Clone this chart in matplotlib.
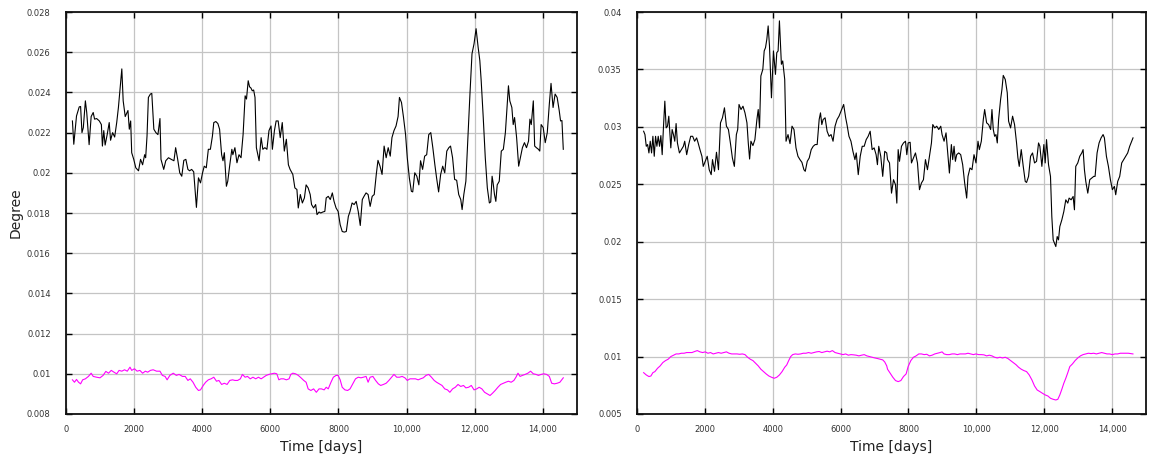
import matplotlib
matplotlib.use("Agg")
import matplotlib.pyplot as plt
from matplotlib.ticker import FuncFormatter, MultipleLocator


# left panel, black series
left_days = [190, 230, 310, 390, 430, 470, 510, 570, 610, 680, 740, 800, 840, 900, 980,
             1040, 1070, 1110, 1150, 1210, 1270, 1310, 1370, 1430, 1490, 1540, 1600, 1640,
             1680, 1740, 1820, 1860, 1900, 1930, 1990, 2050, 2130, 2190, 2250, 2310, 2340,
             2380, 2420, 2480, 2520, 2580, 2640, 2700, 2760, 2790, 2870, 2930, 3010, 3090,
             3170, 3220, 3280, 3340, 3400, 3460, 3520, 3580, 3630, 3690, 3750, 3830, 3890,
             3950, 4010, 4060, 4120, 4180, 4240, 4300, 4340, 4400, 4460, 4510, 4570, 4610,
             4650, 4710, 4750, 4810, 4870, 4900, 4960, 5020, 5080, 5140, 5200, 5260, 5300,
             5350, 5390, 5430, 5470, 5510, 5550, 5590, 5670, 5730, 5780, 5840, 5900, 5960,
             6020, 6060, 6120, 6170, 6230, 6290, 6350, 6410, 6470, 6530, 6580, 6660, 6720,
             6780, 6820, 6880, 6940, 7000, 7050, 7110, 7170, 7210, 7270, 7330, 7370, 7430,
             7480, 7540, 7600, 7640, 7700, 7760, 7820, 7870, 7930, 7990, 8050, 8110, 8170,
             8230, 8290, 8340, 8400, 8460, 8520, 8580, 8640, 8700, 8750, 8810, 8870, 8930,
             8990, 9050, 9110, 9160, 9220, 9280, 9340, 9400, 9460, 9520, 9570, 9630, 9690,
             9750, 9790, 9850, 9910, 9970, 10020, 10080, 10140, 10180, 10240, 10300, 10360,
             10410, 10470, 10530, 10590, 10650, 10710, 10770, 10830, 10880, 10940, 11000,
             11060, 11120, 11180, 11240, 11290, 11350, 11410, 11470, 11530, 11590, 11630,
             11680, 11740, 11800, 11860, 11920, 11980, 12040, 12100, 12150, 12190, 12250,
             12310, 12370, 12430, 12470, 12510, 12540, 12580, 12620, 12660, 12720, 12780,
             12840, 12900, 12960, 12990, 13030, 13090, 13130, 13170, 13230, 13290, 13350,
             13400, 13460, 13520, 13580, 13620, 13660, 13720, 13760, 13810, 13870, 13910,
             13950, 14010, 14070, 14130, 14190, 14240, 14300, 14360, 14420, 14480, 14520,
             14560, 14600]
left_black = [0.02258, 0.02142, 0.02283, 0.02328, 0.0233, 0.0220, 0.02225, 0.02358, 0.0230,
              0.0214, 0.0228, 0.0230, 0.02267, 0.0227, 0.02258, 0.0224, 0.02133, 0.0221,
              0.02138, 0.0219, 0.0225, 0.02162, 0.0220, 0.02178, 0.0225, 0.02325, 0.0244,
              0.02517, 0.02358, 0.0228, 0.0231, 0.02217, 0.02258, 0.0210, 0.02067, 0.02025,
              0.0201, 0.02067, 0.0204, 0.0209, 0.02075, 0.02183, 0.02375, 0.02392, 0.02395,
              0.02217, 0.0220, 0.0219, 0.0227, 0.02067, 0.02017, 0.0206, 0.02075, 0.02067,
              0.0206, 0.02125, 0.02067, 0.0200, 0.01983, 0.02062, 0.02067, 0.02017, 0.0201,
              0.02017, 0.02005, 0.01828, 0.01975, 0.0195, 0.0200, 0.02033, 0.02025, 0.02117,
              0.02117, 0.02183, 0.0225, 0.02255, 0.02245, 0.02217, 0.0209, 0.0206, 0.0210,
              0.01933, 0.01958, 0.0204, 0.02117, 0.0209, 0.02125, 0.0205, 0.0209, 0.02075,
              0.0219, 0.02383, 0.02367, 0.02458, 0.02428, 0.02422, 0.02408, 0.02412, 0.02375,
              0.02125, 0.0206, 0.02175, 0.02117, 0.02125, 0.02117, 0.0221, 0.02233, 0.02117,
              0.0221, 0.02258, 0.02258, 0.02175, 0.0225, 0.02108, 0.02167, 0.0204, 0.02017,
              0.01992, 0.01925, 0.01917, 0.01825, 0.01892, 0.0185, 0.01875, 0.0194, 0.01925,
              0.01892, 0.01842, 0.01825, 0.01842, 0.01792, 0.01805, 0.0180, 0.01805, 0.01808,
              0.01875, 0.01883, 0.01867, 0.0190, 0.01858, 0.01825, 0.01808, 0.01742, 0.01708,
              0.01705, 0.01708, 0.01783, 0.01808, 0.0185, 0.01842, 0.01858, 0.01808, 0.01738,
              0.01867, 0.01883, 0.0190, 0.01892, 0.01833, 0.01883, 0.01892, 0.01992, 0.02062,
              0.02033, 0.01992, 0.02133, 0.02075, 0.02125, 0.02083, 0.02175, 0.0221, 0.02233,
              0.0228, 0.02375, 0.0235, 0.02275, 0.0219, 0.02075, 0.01975, 0.01908, 0.01905,
              0.0200, 0.01983, 0.0194, 0.0206, 0.02017, 0.02083, 0.0209, 0.0219, 0.0220,
              0.02125, 0.0204, 0.01975, 0.01905, 0.01992, 0.02033, 0.0200, 0.02108, 0.02125,
              0.02133, 0.02075, 0.01967, 0.01963, 0.01892, 0.01867, 0.01817, 0.01892, 0.01958,
              0.02175, 0.02392, 0.02592, 0.02642, 0.02717, 0.02625, 0.02558, 0.02458, 0.02275,
              0.02075, 0.01925, 0.0185, 0.01855, 0.01983, 0.0195, 0.01892, 0.01858, 0.0194,
              0.01958, 0.02108, 0.02117, 0.0220, 0.02358, 0.02433, 0.02358, 0.02325, 0.0224,
              0.02275, 0.02175, 0.02033, 0.02083, 0.02125, 0.0215, 0.02125, 0.02158, 0.02267,
              0.0224, 0.02358, 0.02133, 0.02125, 0.02117, 0.02108, 0.0224, 0.02225, 0.0215,
              0.0220, 0.02342, 0.02445, 0.02325, 0.02392, 0.02375, 0.0231, 0.02258, 0.0226,
              0.02117]

# left panel, magenta series
left_mag_days = [190, 250, 310, 370, 430, 490, 570, 660, 740, 800, 900, 1000, 1090, 1170,
                 1250, 1330, 1410, 1490, 1560, 1640, 1720, 1800, 1880, 1930, 2010, 2090,
                 2170, 2250, 2330, 2400, 2480, 2560, 2660, 2760, 2830, 2910, 2970, 3050,
                 3150, 3240, 3320, 3420, 3500, 3580, 3650, 3730, 3810, 3890, 3950, 4030,
                 4100, 4180, 4260, 4340, 4420, 4490, 4570, 4650, 4730, 4810, 4890, 4960,
                 5040, 5120, 5180, 5260, 5330, 5410, 5490, 5570, 5650, 5730, 5800, 5880,
                 5960, 6040, 6120, 6190, 6250, 6310, 6390, 6470, 6550, 6600, 6660, 6740,
                 6820, 6900, 6980, 7050, 7110, 7190, 7270, 7350, 7430, 7500, 7580, 7640,
                 7700, 7780, 7850, 7930, 7990, 8050, 8110, 8190, 8270, 8340, 8420, 8500,
                 8580, 8660, 8730, 8810, 8870, 8930, 9010, 9090, 9170, 9240, 9320, 9400,
                 9480, 9560, 9630, 9710, 9790, 9870, 9950, 10020, 10100, 10180, 10260,
                 10340, 10410, 10490, 10570, 10650, 10730, 10810, 10880, 10960, 11040,
                 11120, 11200, 11270, 11350, 11430, 11510, 11590, 11670, 11740, 11820,
                 11900, 11980, 12060, 12130, 12210, 12290, 12370, 12450, 12520, 12600,
                 12680, 12760, 12840, 12910, 12990, 13070, 13150, 13210, 13270, 13330,
                 13400, 13480, 13560, 13640, 13720, 13800, 13870, 13950, 14030, 14110,
                 14190, 14260, 14340, 14420, 14500, 14600]
left_magenta = [0.0097, 0.00958, 0.00972, 0.00958, 0.0095, 0.0097, 0.00975, 0.00987, 0.01003,
                0.00987, 0.00983, 0.0098, 0.00992, 0.01012, 0.01003, 0.01017, 0.01008, 0.0100,
                0.01017, 0.01013, 0.0102, 0.01013, 0.01033, 0.01017, 0.01025, 0.01013, 0.01017,
                0.01003, 0.01013, 0.01008, 0.01017, 0.0102, 0.01013, 0.01013, 0.00992, 0.00987,
                0.0097, 0.00992, 0.01003, 0.00992, 0.00997, 0.00987, 0.00987, 0.00967, 0.00975,
                0.00958, 0.00933, 0.00917, 0.0092, 0.00942, 0.00958, 0.0097, 0.00975, 0.00983,
                0.00963, 0.00967, 0.00947, 0.00953, 0.00947, 0.00967, 0.0097, 0.00967, 0.00967,
                0.00975, 0.00997, 0.00983, 0.00987, 0.00975, 0.00983, 0.00975, 0.00983, 0.00975,
                0.00983, 0.00992, 0.00997, 0.0100, 0.01003, 0.0100, 0.0097, 0.00975, 0.00975,
                0.0097, 0.00975, 0.00997, 0.01003, 0.0100, 0.00992, 0.0098, 0.00967, 0.00958,
                0.00925, 0.00917, 0.00925, 0.00908, 0.00925, 0.00925, 0.0092, 0.00933, 0.00925,
                0.00958, 0.00983, 0.00992, 0.00992, 0.0097, 0.00933, 0.0092, 0.00917, 0.00925,
                0.0095, 0.00975, 0.00983, 0.0098, 0.00983, 0.00987, 0.00958, 0.00983, 0.00987,
                0.00967, 0.0095, 0.00942, 0.00947, 0.00953, 0.00967, 0.00983, 0.00997, 0.00983,
                0.00983, 0.00987, 0.0098, 0.00967, 0.00975, 0.00975, 0.00975, 0.0097, 0.00975,
                0.0098, 0.00992, 0.00997, 0.00983, 0.00967, 0.00958, 0.0095, 0.00942, 0.00925,
                0.0092, 0.00908, 0.00925, 0.00933, 0.00947, 0.00937, 0.00942, 0.0093, 0.00933,
                0.00942, 0.0092, 0.00925, 0.00933, 0.00925, 0.00908, 0.0090, 0.00892, 0.00903,
                0.00917, 0.00933, 0.00947, 0.00953, 0.00958, 0.00963, 0.00958, 0.00967, 0.00983,
                0.01003, 0.00987, 0.00992, 0.00997, 0.01003, 0.01013, 0.0100, 0.00997, 0.00992,
                0.00997, 0.0100, 0.00997, 0.00987, 0.00953, 0.0095, 0.00953, 0.00958, 0.0098]

# right panel, black series
right_days = [195, 234, 273, 312, 351, 390, 429, 468, 508, 547, 586, 625, 664, 703, 742, 781,
              820, 859, 898, 937, 996, 1035, 1074, 1113, 1152, 1191, 1250, 1308, 1367, 1406,
              1464, 1523, 1582, 1640, 1698, 1757, 1796, 1855, 1913, 1952, 2011, 2069, 2128,
              2186, 2225, 2284, 2342, 2401, 2460, 2518, 2577, 2635, 2694, 2752, 2811, 2869,
              2928, 2967, 3006, 3065, 3123, 3182, 3240, 3279, 3318, 3357, 3416, 3474, 3533,
              3572, 3611, 3650, 3708, 3748, 3787, 3826, 3865, 3904, 3962, 4021, 4080, 4119,
              4158, 4197, 4255, 4294, 4353, 4392, 4450, 4509, 4568, 4626, 4685, 4743, 4802,
              4860, 4919, 4958, 5017, 5075, 5134, 5192, 5251, 5309, 5368, 5407, 5446, 5485,
              5543, 5602, 5660, 5719, 5777, 5836, 5895, 5953, 6012, 6090, 6149, 6188, 6246,
              6305, 6363, 6422, 6461, 6520, 6578, 6637, 6695, 6754, 6812, 6871, 6929, 6988,
              7046, 7085, 7124, 7183, 7241, 7300, 7359, 7383, 7441, 7500, 7559, 7618, 7657,
              7696, 7735, 7794, 7853, 7912, 7951, 7990, 8049, 8088, 8147, 8206, 8265, 8324,
              8382, 8441, 8500, 8559, 8618, 8677, 8716, 8775, 8833, 8892, 8951, 8990, 9049,
              9107, 9166, 9206, 9264, 9303, 9343, 9382, 9421, 9480, 9539, 9597, 9656, 9715,
              9754, 9813, 9872, 9931, 9990, 10049, 10088, 10147, 10205, 10245, 10303, 10362,
              10421, 10460, 10499, 10539, 10578, 10617, 10656, 10715, 10754, 10793, 10852,
              10911, 10950, 11009, 11068, 11126, 11185, 11225, 11264, 11323, 11382, 11441,
              11480, 11539, 11598, 11656, 11715, 11774, 11833, 11872, 11931, 11990, 12029,
              12068, 12127, 12185, 12224, 12264, 12303, 12342, 12382, 12421, 12460, 12519,
              12578, 12636, 12695, 12734, 12793, 12852, 12891, 12930, 12989, 13048, 13107,
              13146, 13185, 13225, 13284, 13342, 13401, 13460, 13499, 13558, 13617, 13676,
              13735, 13774, 13833, 13892, 13951, 14009, 14068, 14107, 14166, 14225, 14284,
              14343, 14401, 14460, 14519, 14578, 14617]
right_black = [0.02962, 0.02933, 0.02831, 0.02846, 0.02773, 0.02875, 0.02773, 0.02918, 0.02744,
               0.02918, 0.02831, 0.02918, 0.02831, 0.02924, 0.02758, 0.03006, 0.03224, 0.02991,
               0.03006, 0.03093, 0.02817, 0.02977, 0.02933, 0.02875, 0.03029, 0.0286, 0.02773,
               0.02802, 0.02831, 0.02875, 0.02758, 0.02846, 0.02918, 0.02918, 0.02875, 0.02904,
               0.02866, 0.02802, 0.02744, 0.02656, 0.027, 0.02744, 0.02627, 0.02584, 0.02715,
               0.02613, 0.02779, 0.02627, 0.03035, 0.03079, 0.03166, 0.03006, 0.02977, 0.0286,
               0.02729, 0.02656, 0.02933, 0.02977, 0.03195, 0.03151, 0.0318, 0.03122, 0.03035,
               0.0286, 0.0272, 0.02875, 0.02837, 0.02889, 0.03064, 0.03151, 0.02991, 0.03443,
               0.03501, 0.03661, 0.0369, 0.03763, 0.03879, 0.03705, 0.03253, 0.03661, 0.03457,
               0.03646, 0.03661, 0.03923, 0.03545, 0.03574, 0.03413, 0.02875, 0.02933, 0.02854,
               0.03006, 0.02977, 0.02817, 0.02744, 0.02715, 0.02691, 0.02627, 0.02613, 0.027,
               0.02729, 0.02802, 0.02831, 0.02846, 0.02846, 0.03064, 0.03122, 0.0302, 0.03064,
               0.03079, 0.02962, 0.02918, 0.02933, 0.02875, 0.03006, 0.03064, 0.03093, 0.03137,
               0.03195, 0.03079, 0.0302, 0.02918, 0.02875, 0.02787, 0.02715, 0.02773, 0.02584,
               0.02744, 0.02831, 0.02831, 0.02889, 0.02918, 0.02962, 0.02802, 0.02817, 0.02758,
               0.02671, 0.02831, 0.02744, 0.02569, 0.02787, 0.02773, 0.02715, 0.02686, 0.02423,
               0.0254, 0.02496, 0.02336, 0.02802, 0.027, 0.02831, 0.0286, 0.02875, 0.02758,
               0.0286, 0.02866, 0.02686, 0.02729, 0.02773, 0.02686, 0.02453, 0.02511, 0.0254,
               0.02715, 0.02627, 0.02744, 0.0286, 0.0302, 0.02991, 0.03006, 0.02977, 0.03006,
               0.02933, 0.02875, 0.02948, 0.02744, 0.02598, 0.02846, 0.02715, 0.02831, 0.027,
               0.02758, 0.02773, 0.02758, 0.02671, 0.02511, 0.0238, 0.02569, 0.02642, 0.02627,
               0.02758, 0.02686, 0.02875, 0.02802, 0.02875, 0.03064, 0.03151, 0.03035, 0.0302,
               0.02977, 0.03151, 0.02977, 0.02918, 0.02933, 0.0286, 0.03064, 0.03239, 0.03326,
               0.03448, 0.03413, 0.03297, 0.0305, 0.02991, 0.03093, 0.0302, 0.0286, 0.02729,
               0.02656, 0.02802, 0.02656, 0.02525, 0.02516, 0.02569, 0.02744, 0.02773, 0.02686,
               0.027, 0.0286, 0.02831, 0.02656, 0.02846, 0.02686, 0.02889, 0.02671, 0.02569,
               0.0222, 0.02016, 0.01987, 0.01958, 0.02045, 0.02016, 0.02132, 0.0219, 0.02263,
               0.02365, 0.02336, 0.0238, 0.02365, 0.02394, 0.02278, 0.02656, 0.02686, 0.02744,
               0.02773, 0.02802, 0.02627, 0.02525, 0.02423, 0.0254, 0.02555, 0.02569, 0.02569,
               0.02773, 0.0286, 0.02904, 0.02933, 0.02904, 0.02744, 0.02656, 0.0254, 0.02453,
               0.02482, 0.02409, 0.02525, 0.02569, 0.02686, 0.02715, 0.02744, 0.02773, 0.02831,
               0.02875, 0.02904]

# right panel, magenta series
right_mag_days = [195, 273, 351, 410, 468, 527, 605, 683, 761, 840, 918, 996, 1074, 1152,
                  1230, 1308, 1386, 1464, 1542, 1620, 1698, 1777, 1855, 1933, 2011, 2089,
                  2167, 2245, 2323, 2401, 2479, 2557, 2635, 2713, 2791, 2869, 2948, 3026,
                  3104, 3182, 3260, 3338, 3416, 3494, 3572, 3650, 3728, 3806, 3885, 3963,
                  4041, 4119, 4197, 4275, 4353, 4412, 4470, 4529, 4587, 4665, 4743, 4821,
                  4900, 4978, 5056, 5134, 5212, 5290, 5368, 5446, 5524, 5602, 5680, 5758,
                  5836, 5915, 5993, 6071, 6149, 6227, 6305, 6383, 6461, 6539, 6617, 6695,
                  6774, 6852, 6930, 7008, 7086, 7164, 7242, 7300, 7359, 7383, 7461, 7539,
                  7618, 7696, 7775, 7853, 7931, 7990, 8069, 8147, 8225, 8304, 8382, 8461,
                  8539, 8618, 8696, 8775, 8853, 8931, 8990, 9049, 9127, 9205, 9284, 9362,
                  9441, 9519, 9597, 9676, 9754, 9833, 9911, 9989, 10068, 10146, 10225,
                  10303, 10382, 10460, 10539, 10617, 10695, 10773, 10852, 10930, 11009,
                  11087, 11166, 11245, 11323, 11401, 11480, 11558, 11637, 11715, 11793,
                  11872, 11950, 12029, 12107, 12185, 12264, 12342, 12401, 12460, 12519,
                  12577, 12636, 12695, 12754, 12832, 12910, 12989, 13067, 13145, 13223,
                  13302, 13380, 13459, 13537, 13615, 13694, 13772, 13851, 13929, 14007,
                  14086, 14164, 14243, 14321, 14399, 14478, 14556, 14615]
right_magenta = [0.0086, 0.0084, 0.00826, 0.00831, 0.0086, 0.00869, 0.00898, 0.00919, 0.00948,
                 0.00965, 0.00977, 0.0100, 0.01012, 0.01023, 0.01023, 0.01029, 0.01029, 0.01035,
                 0.01035, 0.01035, 0.01044, 0.01052, 0.01041, 0.01035, 0.01041, 0.01029, 0.01035,
                 0.01023, 0.01029, 0.01035, 0.01029, 0.01035, 0.01041, 0.01029, 0.01023, 0.01023,
                 0.01023, 0.0102, 0.01023, 0.01017, 0.00994, 0.00977, 0.00965, 0.00942, 0.00919,
                 0.0089, 0.00869, 0.00849, 0.00831, 0.0082, 0.00811, 0.0082, 0.0084, 0.00869,
                 0.00907, 0.00927, 0.00965, 0.0100, 0.01017, 0.01023, 0.0102, 0.01023, 0.01029,
                 0.01029, 0.01035, 0.01029, 0.01035, 0.01041, 0.01044, 0.01035, 0.01041, 0.01047,
                 0.01041, 0.01052, 0.01035, 0.01029, 0.01023, 0.01017, 0.01023, 0.01012, 0.01017,
                 0.01015, 0.01012, 0.01006, 0.01012, 0.01017, 0.01006, 0.0100, 0.00994, 0.00988,
                 0.00983, 0.00977, 0.00971, 0.00953, 0.00919, 0.0089, 0.00855, 0.0082, 0.00791,
                 0.00782, 0.00791, 0.00826, 0.00849, 0.00913, 0.00965, 0.00994, 0.01006, 0.01023,
                 0.01023, 0.01017, 0.0102, 0.01006, 0.01012, 0.01023, 0.01029, 0.01035, 0.01041,
                 0.01023, 0.01017, 0.01017, 0.01023, 0.01023, 0.01017, 0.01023, 0.01023, 0.01023,
                 0.01029, 0.01023, 0.01017, 0.01023, 0.01017, 0.01017, 0.01015, 0.01006, 0.01012,
                 0.01006, 0.00994, 0.00988, 0.00994, 0.00988, 0.00994, 0.00983, 0.00965, 0.00948,
                 0.0093, 0.00907, 0.0089, 0.00878, 0.00869, 0.0084, 0.00797, 0.00744, 0.00709,
                 0.00695, 0.0068, 0.00666, 0.00657, 0.00637, 0.00628, 0.00622, 0.00628, 0.00666,
                 0.00715, 0.00767, 0.00811, 0.0086, 0.00913, 0.00936, 0.00965, 0.00988, 0.01006,
                 0.01017, 0.01023, 0.01029, 0.01026, 0.01029, 0.01023, 0.01029, 0.01035, 0.01029,
                 0.01023, 0.01023, 0.01017, 0.01023, 0.01023, 0.01029, 0.01029, 0.01029, 0.01029,
                 0.01026, 0.01023]

x_ticks = [0, 2000, 4000, 6000, 8000, 10000, 12000, 14000]


def day_label(x, pos):
    if x >= 10000:
        return f"{x:,.0f}"
    return f"{x:.0f}"


def style(ax, ylo, yhi, ystep):
    ax.set_xlim(0, 15000)
    ax.set_ylim(ylo, yhi)
    ax.set_xticks(x_ticks)
    ax.xaxis.set_major_formatter(FuncFormatter(day_label))
    ax.yaxis.set_major_locator(MultipleLocator(ystep))
    ax.yaxis.set_major_formatter(FuncFormatter(lambda v, p: f"{v:g}"))
    ax.grid(True, color="#c4c4c4", lw=0.9)
    ax.set_axisbelow(True)
    ax.tick_params(direction="in", length=4, width=1, top=True, right=True,
                   labelsize=6, labelcolor="#333333", pad=8)
    ax.tick_params(axis="y", pad=11)
    for s in ax.spines.values():
        s.set_linewidth(1.3)
        s.set_color("#111111")
    ax.set_xlabel("Time [days]", fontsize=10, color="#222222", labelpad=4)


fig = plt.figure(figsize=(11.49, 4.57), dpi=100)
ax1 = fig.add_axes([0.0574, 0.0941, 0.4447, 0.8796])
ax2 = fig.add_axes([0.5544, 0.0941, 0.4430, 0.8796])

ax1.plot(left_days, left_black, color="black", lw=0.8)
ax1.plot(left_mag_days, left_magenta, color="#ff00ff", lw=0.8)
style(ax1, 0.008, 0.028, 0.002)
ax1.set_ylabel("Degree", fontsize=10, color="#222222", labelpad=3)

ax2.plot(right_days, right_black, color="black", lw=0.8)
ax2.plot(right_mag_days, right_magenta, color="#ff00ff", lw=0.8)
style(ax2, 0.005, 0.04, 0.005)

fig.savefig("out.png", dpi=100)
